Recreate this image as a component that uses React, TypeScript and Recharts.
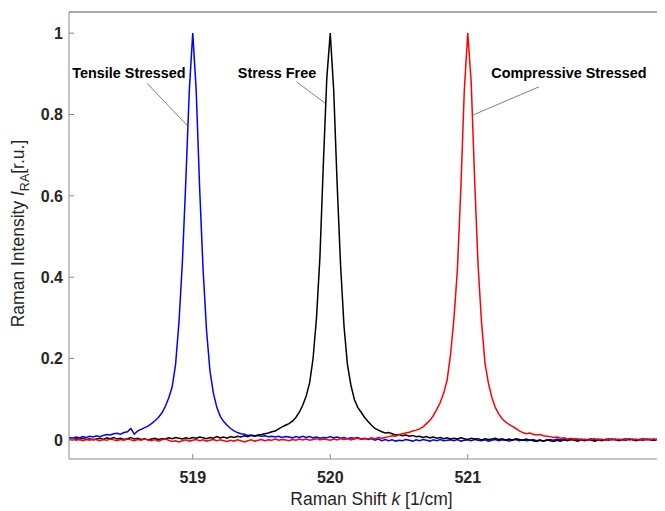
import React from 'react';
import { LineChart, Line, XAxis, YAxis, ReferenceLine, ReferenceDot } from 'recharts';

// Raman shift k [1/cm] sampling grid
const shifts = [
  518.1, 518.125, 518.15, 518.175, 518.2, 518.225, 518.25, 518.275, 518.3, 518.325, 518.35, 518.375,
  518.4, 518.425, 518.45, 518.475, 518.5, 518.525, 518.55, 518.575, 518.6, 518.625, 518.65, 518.675,
  518.7, 518.725, 518.75, 518.775, 518.8, 518.825, 518.85, 518.875, 518.9, 518.925, 518.95, 518.975,
  519.0, 519.025, 519.05, 519.075, 519.1, 519.125, 519.15, 519.175, 519.2, 519.225, 519.25, 519.275,
  519.3, 519.325, 519.35, 519.375, 519.4, 519.425, 519.45, 519.475, 519.5, 519.525, 519.55, 519.575,
  519.6, 519.625, 519.65, 519.675, 519.7, 519.725, 519.75, 519.775, 519.8, 519.825, 519.85, 519.875,
  519.9, 519.925, 519.95, 519.975, 520.0, 520.025, 520.05, 520.075, 520.1, 520.125, 520.15, 520.175,
  520.2, 520.225, 520.25, 520.275, 520.3, 520.325, 520.35, 520.375, 520.4, 520.425, 520.45, 520.475,
  520.5, 520.525, 520.55, 520.575, 520.6, 520.625, 520.65, 520.675, 520.7, 520.725, 520.75, 520.775,
  520.8, 520.825, 520.85, 520.875, 520.9, 520.925, 520.95, 520.975, 521.0, 521.025, 521.05, 521.075,
  521.1, 521.125, 521.15, 521.175, 521.2, 521.225, 521.25, 521.275, 521.3, 521.325, 521.35, 521.375,
  521.4, 521.425, 521.45, 521.475, 521.5, 521.525, 521.55, 521.575, 521.6, 521.625, 521.65, 521.675,
  521.7, 521.725, 521.75, 521.775, 521.8, 521.825, 521.85, 521.875, 521.9, 521.925, 521.95, 521.975,
  522.0, 522.025, 522.05, 522.075, 522.1, 522.125, 522.15, 522.175, 522.2, 522.225, 522.25, 522.275,
  522.3, 522.325, 522.35, 522.375, 522.4, 522.425, 522.45, 522.475, 522.5,
];

// Tensile stressed (blue)
const tensile = [
  0.006, 0.004, 0.007, 0.005, 0.008, 0.006, 0.009, 0.007, 0.010, 0.008, 0.011, 0.013,
  0.012, 0.015, 0.016, 0.014, 0.018, 0.020, 0.028, 0.014, 0.022, 0.026, 0.030, 0.034,
  0.040, 0.047, 0.055, 0.066, 0.082, 0.103, 0.130, 0.185, 0.290, 0.440, 0.640, 0.860,
  1.000, 0.860, 0.620, 0.420, 0.270, 0.170, 0.115, 0.080, 0.058, 0.045, 0.036, 0.028,
  0.022, 0.018, 0.015, 0.014, 0.011, 0.012, 0.010, 0.011, 0.009, 0.010, 0.008, 0.009,
  0.007, 0.009, 0.006, 0.008, 0.007, 0.005, 0.008, 0.006, 0.009, 0.006, 0.008, 0.005,
  0.007, 0.004, 0.006, 0.005, 0.008, 0.005, 0.007, 0.004, 0.006, 0.003, 0.005, 0.004,
  0.006, 0.002, 0.004, 0.001, 0.003, -0.001, 0.002, -0.002, 0.001, -0.002, 0.000, -0.003,
  -0.001, -0.002, 0.001, -0.001, -0.003, 0.000, -0.002, 0.001, -0.001, -0.003, 0.000, -0.002,
  0.001, -0.002, -0.001, 0.000, -0.002, 0.001, -0.003, -0.001, 0.000, -0.002, 0.001, -0.001,
  -0.002, 0.000, -0.003, -0.001, 0.001, -0.002, 0.000, -0.001, -0.003, -0.001, 0.001, -0.002,
  0.000, -0.002, -0.001, 0.001, -0.002, 0.000, -0.003, -0.001, 0.001, -0.001, 0.002, 0.000,
  0.002, -0.001, 0.001, 0.003, 0.000, 0.002, -0.001, 0.001, 0.003, 0.000, 0.002, -0.001,
  0.001, 0.003, 0.000, 0.002, -0.001, 0.001, 0.003, 0.000, 0.002, -0.001, 0.001, 0.003,
  0.000, 0.002, -0.001, 0.001, 0.003, 0.000, 0.002, 0.001, 0.000,
];

// Stress free (black)
const stressFree = [
  0.002, 0.000, 0.003, 0.001, 0.004, 0.001, 0.003, 0.000, 0.002, 0.004, 0.001, 0.005,
  0.003, 0.006, 0.002, 0.004, 0.001, 0.003, 0.006, 0.002, 0.004, 0.001, 0.003, 0.000,
  0.002, 0.004, 0.001, 0.003, 0.002, 0.005, 0.003, 0.006, 0.004, 0.002, 0.005, 0.003,
  0.006, 0.004, 0.007, 0.005, 0.003, 0.006, 0.004, 0.008, 0.005, 0.007, 0.004, 0.008,
  0.006, 0.009, 0.007, 0.010, 0.008, 0.011, 0.009, 0.012, 0.013, 0.015, 0.017, 0.020,
  0.022, 0.027, 0.032, 0.036, 0.040, 0.046, 0.055, 0.068, 0.085, 0.108, 0.140, 0.200,
  0.300, 0.450, 0.680, 0.890, 1.000, 0.860, 0.630, 0.430, 0.280, 0.185, 0.135, 0.100,
  0.080, 0.068, 0.055, 0.045, 0.036, 0.028, 0.024, 0.020, 0.017, 0.018, 0.015, 0.012,
  0.013, 0.010, 0.012, 0.009, 0.011, 0.008, 0.009, 0.006, 0.008, 0.005, 0.007, 0.004,
  0.006, 0.003, 0.005, 0.002, 0.004, 0.002, 0.005, 0.003, 0.001, 0.004, 0.002, 0.003,
  0.000, 0.003, 0.001, 0.002, 0.004, 0.001, 0.003, 0.000, 0.002, 0.000, 0.003, 0.001,
  -0.001, 0.002, 0.000, -0.002, -0.004, -0.001, -0.003, 0.000, -0.002, -0.004, -0.001, -0.003,
  0.000, -0.002, 0.001, -0.001, -0.003, 0.000, -0.002, 0.001, -0.001, -0.003, 0.000, -0.002,
  0.001, -0.001, 0.002, 0.000, -0.002, 0.001, -0.001, 0.002, 0.000, -0.002, 0.001, -0.001,
  0.002, 0.000, -0.001, 0.001, -0.001, 0.001, 0.000, 0.002, 0.001,
];

// Compressive stressed (red)
const compressive = [
  0.000, 0.002, -0.001, 0.001, -0.002, 0.001, -0.001, 0.002, 0.000, -0.002, 0.001, -0.001,
  0.002, 0.000, -0.002, 0.001, -0.001, 0.002, 0.000, -0.002, 0.001, -0.001, 0.002, 0.000,
  -0.002, 0.001, -0.003, 0.000, 0.002, -0.001, -0.004, -0.002, -0.005, -0.002, 0.000, -0.003,
  -0.001, 0.001, -0.002, 0.000, -0.003, -0.001, 0.001, -0.002, 0.000, -0.002, -0.004, -0.001,
  -0.003, 0.000, -0.002, -0.005, -0.002, 0.000, -0.003, -0.001, 0.001, -0.002, 0.000, -0.001,
  0.002, -0.001, 0.001, 0.000, -0.002, 0.001, -0.001, 0.002, 0.000, 0.002, -0.001, 0.001,
  0.003, 0.000, 0.002, 0.001, -0.001, 0.002, 0.000, 0.003, 0.001, 0.003, 0.000, 0.002,
  0.004, 0.001, 0.003, 0.002, 0.005, 0.003, 0.006, 0.004, 0.006, 0.008, 0.010, 0.009,
  0.013, 0.015, 0.017, 0.019, 0.022, 0.024, 0.027, 0.032, 0.040, 0.048, 0.060, 0.075,
  0.092, 0.115, 0.147, 0.210, 0.300, 0.420, 0.620, 0.860, 1.000, 0.880, 0.640, 0.430,
  0.290, 0.190, 0.140, 0.105, 0.080, 0.064, 0.052, 0.044, 0.038, 0.033, 0.028, 0.022,
  0.018, 0.015, 0.017, 0.014, 0.012, 0.013, 0.010, 0.009, 0.008, 0.006, 0.007, 0.004,
  0.005, 0.002, 0.004, 0.001, 0.003, 0.000, 0.002, -0.001, 0.001, 0.003, 0.000, 0.002,
  -0.001, 0.001, 0.002, 0.000, 0.002, -0.001, 0.001, 0.003, 0.000, 0.002, -0.001, 0.001,
  0.002, 0.000, 0.003, 0.001, -0.001, 0.001, 0.002, 0.000, 0.001,
];

const xTicks = [519, 520, 521];
const yTicks = [0, 0.2, 0.4, 0.6, 0.8, 1];

const annotations = [
  { label: 'Tensile Stressed', tx: 518.536, ty: 0.903, x1: 518.667, y1: 0.877, x2: 518.968, y2: 0.77 },
  { label: 'Stress Free', tx: 519.613, ty: 0.903, x1: 519.756, y1: 0.88, x2: 519.962, y2: 0.828 },
  { label: 'Compressive Stressed', tx: 521.736, ty: 0.903, x1: 521.518, y1: 0.868, x2: 521.04, y2: 0.799 },
];

const data = shifts.map((x, i) => ({
  x,
  tensile: tensile[i],
  stressFree: stressFree[i],
  compressive: compressive[i],
}));

const FONT = '"Liberation Sans", Arial, Helvetica, sans-serif';
const AXIS = '#8a8a8a';
const TEXT = '#262626';

const XLabel = (props: any) => {
  const vb = props.viewBox || { x: 61, y: 451, width: 605, height: 52 };
  const cx = 363.5;
  const y = vb.y + 46;
  return (
    <text x={cx} y={y} textAnchor="middle" fontFamily={FONT} fontSize={17.5} fill={TEXT}>
      Raman Shift <tspan fontStyle="italic">k</tspan> [1/cm]
    </text>
  );
};

const YLabel = (props: any) => {
  const vb = props.viewBox || { x: 0, y: 4, width: 61, height: 447 };
  const cy = vb.y + vb.height / 2 - 2;
  const bx = 16;
  return (
    <text
      transform={`translate(${bx},${cy}) rotate(-90)`}
      x={0}
      y={0}
      textAnchor="middle"
      fontFamily={FONT}
      fontSize={17.5}
      fill={TEXT}
    >
      Raman Intensity <tspan fontStyle="italic">I</tspan>
      <tspan fontSize={12.5} dy={5}>RA</tspan>
      <tspan dy={-5}>[r.u.]</tspan>
    </text>
  );
};

export default function App() {
  return (
    <div style={{ width: 657, height: 503, overflow: 'hidden' }}>
      <LineChart
        width={680}
        height={503}
        data={data}
        margin={{ top: 3, right: 14, bottom: 0, left: 0 }}
      >
        <XAxis
          xAxisId="top"
          orientation="top"
          dataKey="x"
          type="number"
          domain={[518.1, 522.5]}
          allowDataOverflow
          ticks={xTicks}
          interval={0}
          height={1}
          tick={false}
          tickSize={-5}
          axisLine={{ stroke: AXIS }}
          tickLine={{ stroke: AXIS }}
        />
        <XAxis
          dataKey="x"
          type="number"
          domain={[518.1, 522.5]}
          allowDataOverflow
          ticks={xTicks}
          interval={0}
          height={52}
          tickSize={-5}
          tickMargin={18}
          axisLine={{ stroke: AXIS }}
          tickLine={{ stroke: AXIS }}
          tick={{ fontSize: 16, fontWeight: 'bold', fill: TEXT, fontFamily: FONT }}
          label={(p: any) => <XLabel {...p} />}
        />
        <YAxis
          type="number"
          domain={[-0.047, 1.052]}
          allowDataOverflow
          ticks={yTicks}
          interval={0}
          width={61}
          tickSize={-5}
          tickMargin={11}
          tickFormatter={(v: number) => String(v)}
          axisLine={{ stroke: AXIS }}
          tickLine={{ stroke: AXIS }}
          tick={{ fontSize: 16, fontWeight: 'bold', fill: TEXT, fontFamily: FONT }}
          label={(p: any) => <YLabel {...p} />}
        />
        <ReferenceLine y={1.052} stroke={AXIS} strokeWidth={1} ifOverflow="visible" />
        <Line type="linear" dataKey="tensile" stroke="#0000ff" strokeWidth={1.5} dot={false} isAnimationActive={false} />
        <Line type="linear" dataKey="stressFree" stroke="#000000" strokeWidth={1.5} dot={false} isAnimationActive={false} />
        <Line type="linear" dataKey="compressive" stroke="#ff0000" strokeWidth={1.5} dot={false} isAnimationActive={false} />
        {annotations.map((a) => (
          <ReferenceLine
            key={`l-${a.label}`}
            segment={[{ x: a.x1, y: a.y1 }, { x: a.x2, y: a.y2 }]}
            stroke="#555555"
            strokeWidth={0.75}
          />
        ))}
        {annotations.map((a) => (
          <ReferenceDot
            key={`t-${a.label}`}
            x={a.tx}
            y={a.ty}
            r={0}
            fill="none"
            stroke="none"
            label={{
              value: a.label,
              position: 'center',
              fontSize: 14.4,
              fontWeight: 'bold',
              fill: '#000000',
              fontFamily: FONT,
            }}
          />
        ))}
      </LineChart>
    </div>
  );
}
